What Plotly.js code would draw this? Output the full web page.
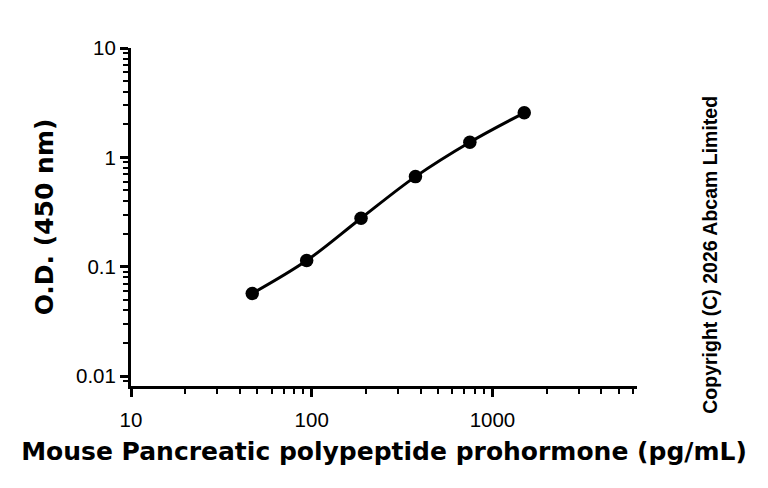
<!DOCTYPE html>
<html>
<head>
<meta charset="utf-8">
<script src="https://cdn.plot.ly/plotly-3.0.1.min.js"></script>
<style>
  body { margin: 0; background: #fff; }
  #chart { width: 768px; height: 488px; }
</style>
</head>
<body>
<div id="chart"></div>
<script>
// Standard curve values
const concentration = [46.875, 93.75, 187.5, 375, 750, 1500];
const od450 = [0.057, 0.114, 0.278, 0.667, 1.377, 2.556];

const xTickVals = [10, 100, 1000];
const xTickText = ["10", "100", "1000"];
const yTickVals = [0.01, 0.1, 1, 10];
const yTickText = ["0.01", "0.1", "1", "10"];

const titleFont = { family: "DejaVu Sans", size: 25, color: "#000" };
const tickFont = { family: "Liberation Sans", size: 20.5, color: "#000" };

let data = [{
    x: concentration,
    y: od450,
    type: "scatter",
    mode: "lines+markers",
    line: { color: "#000", width: 3, shape: "spline", smoothing: 1 },
    marker: { color: "#000", size: 13.5 },
    showlegend: false,
    hoverinfo: "x+y"
}];

let layout = {
    width: 768,
    height: 488,
    margin: { l: 131, r: 131, t: 48, b: 102 },
    paper_bgcolor: "#fff",
    plot_bgcolor: "#fff",
    xaxis: {
        type: "log",
        range: [1, 3.8],
        showgrid: false,
        zeroline: false,
        showline: true,
        linecolor: "#000",
        linewidth: 3,
        ticks: "outside",
        ticklen: 8,
        tickwidth: 3,
        tickcolor: "#000",
        tickmode: "array",
        tickvals: xTickVals,
        ticktext: xTickText,
        tickfont: tickFont,
        ticklabelstandoff: 5,
        minor: { ticks: "outside", ticklen: 5, tickwidth: 2, tickcolor: "#000", dtick: "D1", showgrid: false },
        title: { text: "<b>Mouse Pancreatic polypeptide prohormone (pg/mL)</b>", font: titleFont, standoff: 13 }
    },
    yaxis: {
        type: "log",
        range: [-2.09, 1],
        showgrid: false,
        zeroline: false,
        showline: true,
        linecolor: "#000",
        linewidth: 3,
        ticks: "outside",
        ticklen: 8,
        tickwidth: 3,
        tickcolor: "#000",
        tickmode: "array",
        tickvals: yTickVals,
        ticktext: yTickText,
        tickfont: tickFont,
        minor: { ticks: "outside", ticklen: 5, tickwidth: 2, tickcolor: "#000", dtick: "D1", showgrid: false },
        title: { text: "<b>O.D. (450 nm)</b>", font: titleFont, standoff: 16 }
    },
    annotations: [{
        text: "<b>Copyright (C) 2026 Abcam Limited</b>",
        xref: "paper",
        yref: "paper",
        x: 1.144,
        y: 0.388,
        xanchor: "center",
        yanchor: "middle",
        textangle: -90,
        showarrow: false,
        font: { family: "Liberation Sans", size: 19.5, color: "#000" }
    }]
};

Plotly.newPlot("chart", data, layout, { displayModeBar: false, staticPlot: true });
</script>
</body>
</html>
